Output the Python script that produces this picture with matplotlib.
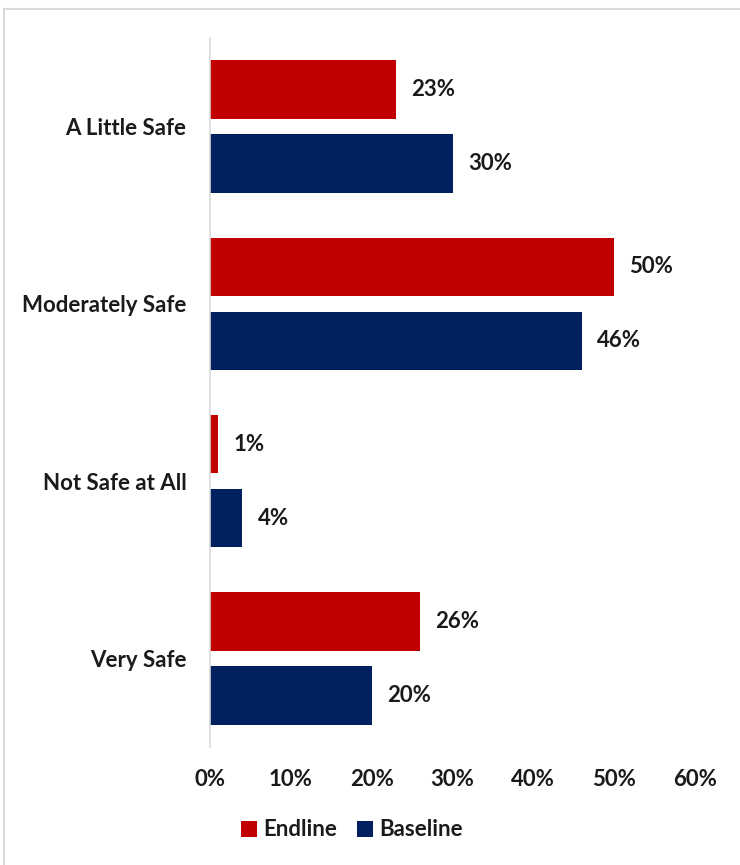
import matplotlib.pyplot as plt
from matplotlib.patches import Rectangle

plt.rcParams['font.family'] = ['Lato', 'DejaVu Sans']
plt.rcParams['font.weight'] = 'bold'

categories = ["A Little Safe", "Moderately Safe", "Not Safe at All", "Very Safe"]
endline = [23, 50, 1, 26]
baseline = [30, 46, 4, 20]
xticks = [0, 10, 20, 30, 40, 50, 60]
xtick_labels = ["0%", "10%", "20%", "30%", "40%", "50%", "60%"]

RED = "#C00000"
NAVY = "#002060"
TEXT = "#1a1a1a"
FS = 16

W, H = 740, 865
fig = plt.figure(figsize=(W / 100, H / 100), dpi=100)
ax = fig.add_axes([210 / W, (H - 747) / H, (695 - 210) / W, (747 - 38) / H])

pos = list(range(len(categories)))
off = 0.209
h = 0.33
ax.barh([p - off for p in pos], endline, height=h, color=RED, label="Endline")
ax.barh([p + off for p in pos], baseline, height=h, color=NAVY, label="Baseline")

for p, v in zip(pos, endline):
    ax.annotate(f"{v}%", (v, p - off), xytext=(11, 0), textcoords="offset points",
                va="center", ha="left", fontsize=FS, fontweight="bold", color=TEXT)
for p, v in zip(pos, baseline):
    ax.annotate(f"{v}%", (v, p + off), xytext=(11, 0), textcoords="offset points",
                va="center", ha="left", fontsize=FS, fontweight="bold", color=TEXT)

ax.set_xlim(0, 60)
ax.set_ylim(len(categories) - 0.5, -0.5)
ax.set_xticks(xticks)
ax.set_xticklabels(xtick_labels, fontsize=FS, fontweight="bold", color=TEXT)
ax.set_yticks(pos)
ax.set_yticklabels(categories, fontsize=FS, fontweight="bold", color=TEXT)
ax.tick_params(axis="both", length=0)
ax.tick_params(axis="x", pad=16)
ax.tick_params(axis="y", pad=17)
for s in ["top", "right", "bottom"]:
    ax.spines[s].set_visible(False)
ax.spines["left"].set_color("#d9d9d9")
ax.spines["left"].set_linewidth(1.2)

fig.legend(loc="center", bbox_to_anchor=(352 / W, 1 - 830 / H), ncol=2, frameon=False,
           handlelength=0.7, handleheight=0.7, handletextpad=0.3,
           columnspacing=0.9, prop={"weight": "bold", "size": FS})
for t in fig.legends[0].get_texts():
    t.set_color(TEXT)

fig.patches.append(Rectangle((4 / W, -0.01), 1.0, 1 - 9 / H + 0.01, transform=fig.transFigure,
                             fill=False, edgecolor="#d9d9d9", linewidth=1.5))

fig.savefig("out.png", dpi=100)
